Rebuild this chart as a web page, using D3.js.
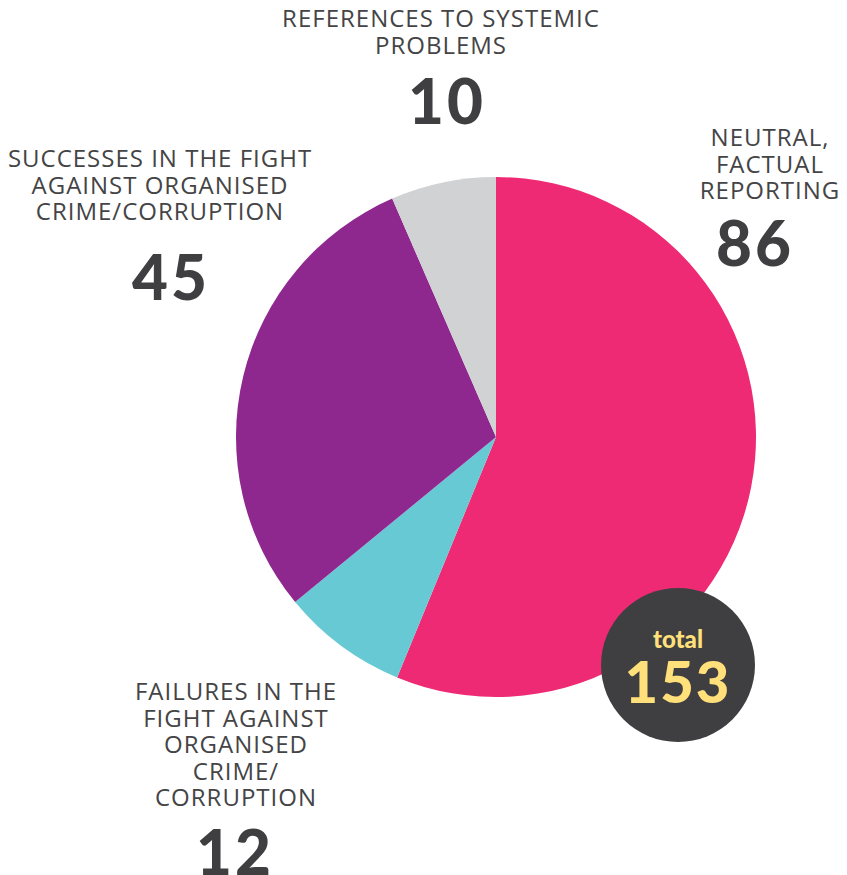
<!DOCTYPE html>
<meta charset="utf-8">
<style>
body { margin: 0; background: #fff; }
.lbl { font-family: "Open Sans", sans-serif; fill: #444446; letter-spacing: 1px; }
.num { font-family: Lato, sans-serif; font-weight: 900; fill: #3f3f41; }
</style>
<svg width="847" height="875"></svg>
<script src="https://d3js.org/d3.v7.min.js"></script>
<script>

var categories = ["NEUTRAL, FACTUAL REPORTING", "FAILURES IN THE FIGHT AGAINST ORGANISED CRIME/CORRUPTION",
                  "SUCCESSES IN THE FIGHT AGAINST ORGANISED CRIME/CORRUPTION", "REFERENCES TO SYSTEMIC PROBLEMS"];
var values = [86, 12, 45, 10];
var colors = ["#ee2a74", "#67c9d3", "#8e288e", "#d1d2d3"];
var totalValue = 153;

// label lines as they are wrapped in the original
var labelLines = [
  ["NEUTRAL,", "FACTUAL", "REPORTING"],
  ["FAILURES IN THE", "FIGHT AGAINST", "ORGANISED", "CRIME/", "CORRUPTION"],
  ["SUCCESSES IN THE FIGHT", "AGAINST ORGANISED", "CRIME/CORRUPTION"],
  ["REFERENCES TO SYSTEMIC", "PROBLEMS"]
];
var labelPos = [
  { x: 770, y: 146, nx: 755, ny: 266 },
  { x: 236, y: 700, nx: 235, ny: 875 },
  { x: 160, y: 167, nx: 171, ny: 300 },
  { x: 441, y: 27,  nx: 447, ny: 124 }
];

var svg = d3.select("svg"),
    cx = 496, cy = 437, r = 260;

var pie = d3.pie().sort(null).value(function(d) { return d; });
var arc = d3.arc().innerRadius(0).outerRadius(r);

svg.append("g")
    .attr("transform", "translate(" + cx + "," + cy + ")")
  .selectAll("path")
  .data(pie(values))
  .enter().append("path")
    .attr("d", arc)
    .attr("fill", function(d, i) { return colors[i]; });

var labels = svg.append("g").selectAll("g")
  .data(categories)
  .enter().append("g");

labels.each(function(d, i) {
  var g = d3.select(this), p = labelPos[i];
  var t = g.append("text")
      .attr("class", "lbl")
      .attr("text-anchor", "middle")
      .attr("font-size", 24);
  labelLines[i].forEach(function(line, j) {
    t.append("tspan")
        .attr("x", p.x)
        .attr("y", p.y + j * 26.6)
        .text(line);
  });
  g.append("text")
      .attr("class", "num")
      .attr("text-anchor", "middle")
      .attr("x", p.nx)
      .attr("y", p.ny)
      .attr("font-size", 62)
      .style("letter-spacing", "3px")
      .text(values[i]);
});

// total badge
var badge = svg.append("g").attr("transform", "translate(678,665)");
badge.append("circle").attr("r", 77).attr("fill", "#3f3f41");
badge.append("text")
    .attr("class", "num")
    .attr("text-anchor", "middle")
    .attr("y", -17)
    .attr("font-size", 24)
    .style("fill", "#ffe07a")
    .text("total");
badge.append("text")
    .attr("class", "num")
    .attr("text-anchor", "middle")
    .attr("y", 38)
    .attr("font-size", 58)
    .style("letter-spacing", "2px")
    .style("fill", "#ffe07a")
    .text(totalValue);

</script>
